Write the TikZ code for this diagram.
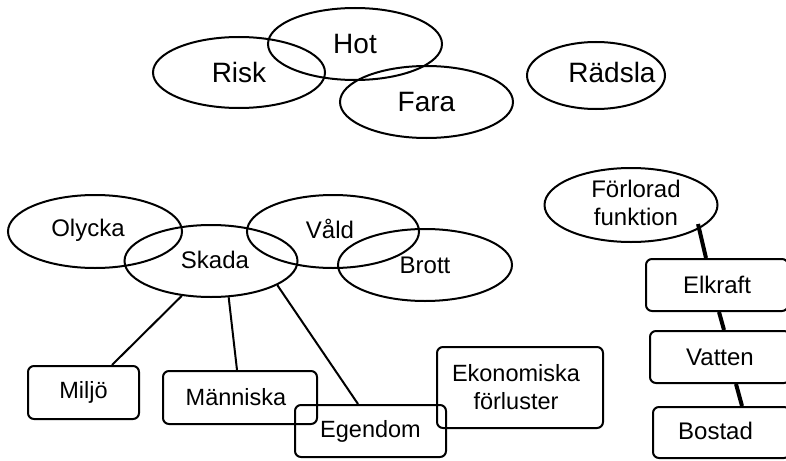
\documentclass[tikz,border=0pt]{standalone}
\usepackage{fontspec}
\setmainfont{Liberation Sans}
\usetikzlibrary{shapes.geometric}
\begin{document}
\begin{tikzpicture}[x=1pt,y=-1pt,
  ell/.style={draw, ellipse, line width=2pt, inner sep=0pt},
  big/.style={font=\fontsize{28}{30}\selectfont},
  mid/.style={font=\fontsize{24}{28}\selectfont},
  small/.style={font=\fontsize{23.5}{28}\selectfont},
  rbox/.style={draw, rounded corners=6pt, line width=2pt, inner sep=0pt},
  link/.style={line width=2pt},
  heavy/.style={line width=4pt}]
\useasboundingbox (0,0) rectangle (786,460);
% top row
\node[ell,big,minimum width=172,minimum height=71] (risk) at (239,72.5) {Risk};
\node[ell,big,minimum width=174,minimum height=72] (hot) at (355,44) {Hot};
\node[ell,big,minimum width=173,minimum height=72] (fara) at (426.5,102) {Fara};
\node[ell,minimum width=138,minimum height=67,label={[big,xshift=16pt,yshift=3pt]center:Rädsla}] (radsla) at (596,75.5) {};
% middle row
\node[ell,minimum width=174,minimum height=73,label={[mid,xshift=-7pt,yshift=1pt]center:Olycka}] (olycka) at (95,231.5) {};
\node[ell,minimum width=173,minimum height=72,label={[mid,xshift=4pt,yshift=1pt]center:Skada}] (skada) at (211,261) {};
\node[ell,minimum width=172,minimum height=73,label={[mid,xshift=-3pt,yshift=3pt]center:Våld}] (vald) at (333,231.5) {};
\node[ell,mid,minimum width=174,minimum height=72] (brott) at (425,265) {Brott};
\node[ell,minimum width=173,minimum height=74,label={[mid,align=center,xshift=5pt,yshift=2pt]center:Förlorad\\funktion}] (forl) at (631,205) {};
% boxes
\node[rbox,small,minimum width=111,minimum height=53] (miljo) at (83.5,392.5) {Miljö};
\node[rbox,small,minimum width=154,minimum height=53,label={[small,xshift=-4pt]center:Människa}] (mann) at (240,397.5) {};
\node[rbox,small,minimum width=151,minimum height=52] (egen) at (370.5,431) {Egendom};
\node[rbox,minimum width=166,minimum height=81,label={[small,align=center,xshift=-4pt]center:Ekonomiska\\förluster}] (ekon) at (520,387.5) {};
\node[rbox,mid,minimum width=142,minimum height=52] (elk) at (717,285) {Elkraft};
\node[rbox,mid,minimum width=140,minimum height=52] (vat) at (720,357) {Vatten};
\node[rbox,minimum width=137,minimum height=51,label={[mid,xshift=-6pt,yshift=2pt]center:Bostad}] (bos) at (721.5,432.5) {};
% connectors
\draw[link] (skada.-130) -- ([xshift=28.5pt]miljo.north);
\draw[link] (skada.-64) -- ([xshift=-3pt]mann.north);
\draw[link] (skada.-20) -- ([xshift=-12.5pt]egen.north);
\draw[heavy] ([shift={(67,19)}]forl.center) -- ([xshift=-11pt]elk.north);
\draw[heavy] ([xshift=2pt]elk.south) -- ([xshift=4pt]vat.north);
\draw[heavy] ([xshift=16pt]vat.south) -- ([xshift=20.5pt]bos.north);
\end{tikzpicture}
\end{document}
